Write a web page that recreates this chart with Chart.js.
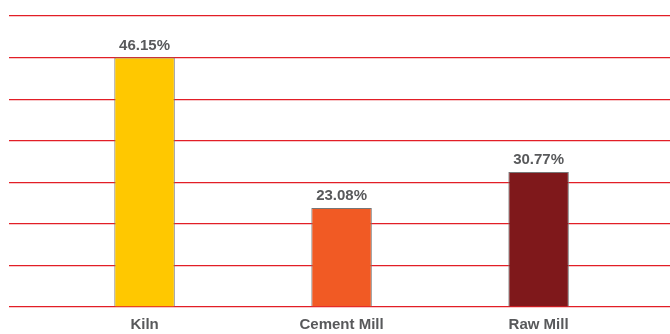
<!DOCTYPE html>
<html>
<head>
<meta charset="utf-8">
<script src="https://cdn.jsdelivr.net/npm/chart.js@4"></script>
<style>
  html, body { margin: 0; padding: 0; background: #ffffff; }
  #wrap { width: 670px; height: 334px; }
</style>
</head>
<body>
<div id="wrap"><canvas id="c" width="670" height="334"></canvas></div>
<script>
// Categories and values
const categories = ["Kiln", "Cement Mill", "Raw Mill"];
// Percentages printed above each bar
const shareLabels = ["46.15%", "23.08%", "30.77%"];
// Bar heights as drawn (in % units of the gridded scale)
const barValues = [46.15, 18.3, 25.0];
const barColors = ["#ffc800", "#f15a24", "#7f181b"];
// Gridline step (% per gridline) and axis maximum
const gridStep = 7.692;
const axisMax = 53.846;

const valueLabelPlugin = {
  id: 'valueLabels',
  afterDatasetsDraw(chart) {
    const ctx = chart.ctx;
    const meta = chart.getDatasetMeta(0);
    ctx.save();
    ctx.font = 'bold 15px "Liberation Sans", Arial, Helvetica, sans-serif';
    ctx.fillStyle = '#58595b';
    ctx.textAlign = 'center';
    ctx.textBaseline = 'alphabetic';
    meta.data.forEach((bar, i) => {
      ctx.fillText(shareLabels[i], bar.x, bar.y - 8);
    });
    ctx.restore();
  }
};

new Chart(document.getElementById('c'), {
  type: 'bar',
  data: {
    datasets: [{
      data: barValues.map((v, i) => ({ x: i, y: v })),
      backgroundColor: barColors,
      borderColor: '#777777',
      borderWidth: 1,
      borderSkipped: 'bottom',
      barPercentage: 0.307,
      categoryPercentage: 1.0
    }]
  },
  options: {
    responsive: false,
    animation: false,
    devicePixelRatio: 1,
    layout: { padding: { left: 9, right: 0, top: 16, bottom: 0 } },
    plugins: { legend: { display: false }, tooltip: { enabled: false } },
    scales: {
      x: {
        type: 'linear',
        offset: false,
        min: -0.688,
        max: 2.667,
        grid: { display: false, drawTicks: false, offset: false },
        border: { display: false },
        afterFit(scale) { scale.height = 27; scale.paddingLeft = 0; scale.paddingRight = 0; },
        ticks: {
          stepSize: 1,
          includeBounds: false,
          autoSkip: false,
          maxRotation: 0,
          padding: 9,
          color: '#58595b',
          font: { family: '"Liberation Sans", Arial, Helvetica, sans-serif', size: 15, weight: 'bold' },
          callback: (v) => (Number.isInteger(v) && categories[v] !== undefined) ? categories[v] : ''
        }
      },
      y: {
        min: 0,
        max: axisMax,
        ticks: { display: false, stepSize: gridStep },
        afterFit(scale) { scale.width = 0; },
        grid: { color: 'rgb(226, 30, 38)', lineWidth: 1.2, drawTicks: false },
        border: { display: false }
      }
    }
  },
  plugins: [valueLabelPlugin]
});
</script>
</body>
</html>
